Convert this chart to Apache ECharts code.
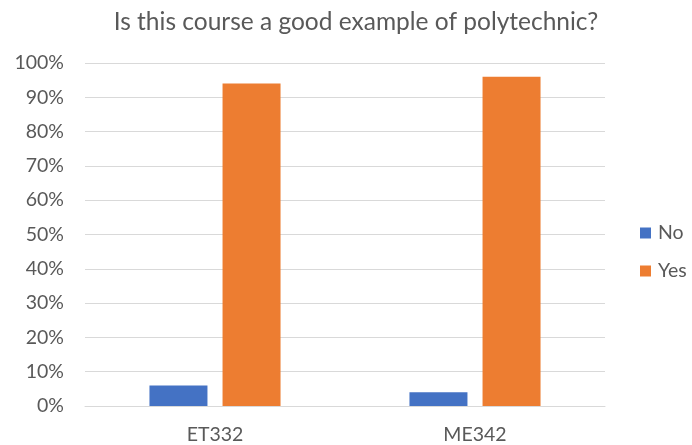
<!DOCTYPE html>
<html>
<head>
<meta charset="utf-8">
<script src="https://cdn.jsdelivr.net/npm/echarts@6/dist/echarts.min.js"></script>
<style>
  html, body { margin: 0; padding: 0; background: #fff; }
  #chart { width: 692px; height: 445px; }
</style>
</head>
<body>
<div id="chart"></div>
<script>
const categories = ["ET332", "ME342"];
const noValues = [6, 4];
const yesValues = [94, 96];
const seriesNames = ["No", "Yes"];

const textGray = "#595959";
const fontName = "Lato";

const chart = echarts.init(document.getElementById("chart"));

const option = {
  backgroundColor: "#fff",
  animation: false,
  title: {
    text: "Is this course a good example of polytechnic?",
    left: 351,
    textAlign: "center",
    top: 5,
    textStyle: {
      fontFamily: fontName,
      fontSize: 24.5,
      fontWeight: "normal",
      color: textGray,
    },
  },
  legend: {
    orient: "vertical",
    left: 635,
    top: 218,
    itemWidth: 11,
    itemHeight: 11,
    itemGap: 18,
    icon: "rect",
    data: seriesNames,
    textStyle: {
      fontFamily: fontName,
      fontSize: 19.5,
      color: textGray,
      padding: [0, 0, 0, 2],
    },
  },
  grid: {
    left: 85,
    right: 87,
    top: 63,
    bottom: 38,
  },
  xAxis: {
    type: "category",
    data: categories,
    axisLine: { lineStyle: { color: "#d9d9d9", width: 1 } },
    axisTick: { show: false },
    axisLabel: {
      fontFamily: fontName,
      fontSize: 19.5,
      color: textGray,
      margin: 19,
    },
  },
  yAxis: {
    type: "value",
    min: 0,
    max: 100,
    interval: 10,
    axisLine: { show: false },
    axisTick: { show: false },
    splitLine: { lineStyle: { color: "#d9d9d9", width: 1 } },
    axisLabel: {
      formatter: "{value}%",
      fontFamily: fontName,
      fontSize: 19.5,
      color: textGray,
      margin: 21,
    },
  },
  series: [
    {
      name: seriesNames[0],
      type: "bar",
      data: noValues,
      barWidth: 58,
      barGap: "26%",
      itemStyle: { color: "#4472C4" },
    },
    {
      name: seriesNames[1],
      type: "bar",
      data: yesValues,
      barWidth: 58,
      barGap: "26%",
      itemStyle: { color: "#ED7D31" },
    },
  ],
};

chart.setOption(option);
</script>
</body>
</html>
